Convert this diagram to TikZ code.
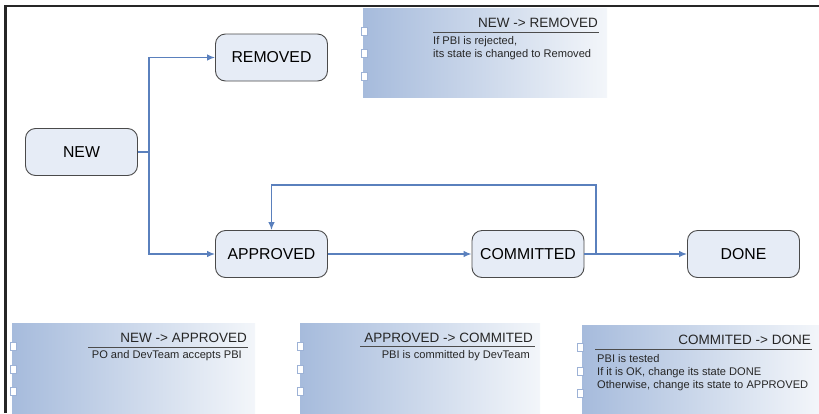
\documentclass[tikz,border=0pt]{standalone}
\usepackage{fontspec}
\setmainfont{Liberation Sans}
\usetikzlibrary{arrows.meta}
\definecolor{statefill}{HTML}{E6ECF6}
\definecolor{stateline}{HTML}{4A4A4A}
\definecolor{connblue}{HTML}{5A80BD}
\definecolor{notel}{HTML}{A6BBDC}
\definecolor{noter}{HTML}{F3F6FA}
\definecolor{tabline}{HTML}{9DB2D6}
\begin{document}
\begin{tikzpicture}[x=1pt,y=-1pt,
  state/.style={draw=stateline, line width=0.9pt, fill=statefill, rounded corners=10pt,
    minimum width=112pt, minimum height=47pt, inner sep=0pt,
    font=\fontsize{15.8}{18}\selectfont},
  conn/.style={draw=connblue, line width=1.3pt},
  arr/.style={conn, -{Latex[length=8pt,width=6.5pt]}},
  note/.style={left color=notel, right color=noter, draw=none, anchor=north west, inner sep=0pt},
  tab/.style={fill=white, draw=tabline, line width=1pt, minimum width=5.5pt, minimum height=8pt, inner sep=0pt, anchor=north west},
  ntitle/.style={font=\fontsize{13.5}{15}\selectfont, inner sep=0pt, text=black!85},
  nbody/.style={font=\fontsize{11.1}{13}\selectfont, inner sep=0pt, text=black!85, align=left},
  uline/.style={draw=black!70, line width=0.9pt},
  frame/.style={draw=black!85, line width=2.4pt}
]
\useasboundingbox (0,0) rectangle (819,413);
% frame
\coordinate (fa) at (5.5,413);
\coordinate (fb) at (5.5,6);
\coordinate (fc) at (819,6);
\draw[frame] (fa) -- (fb) -- (fc);

% notes
\node[note, minimum width=244pt, minimum height=89pt] (n1) at (363,8) {};
\node[note, minimum width=243pt, minimum height=92pt] (n2) at (12,323) {};
\node[note, minimum width=240pt, minimum height=90pt] (n3) at (300,323) {};
\node[note, minimum width=237pt, minimum height=88pt] (n4) at (582,325) {};

\foreach \n/\x/\ya/\yb/\yc in {n1/361/27/49/72, n2/10/342/365/387, n3/297/342/365/387, n4/577/343/367/389}{
  \node[tab] (\n ta) at (\x,\ya) {};
  \node[tab] (\n tb) at (\x,\yb) {};
  \node[tab] (\n tc) at (\x,\yc) {};
}

% note 1
\node[ntitle, anchor=base east] (t1) at (598,27) {NEW -> REMOVED};
\coordinate (u1a) at (433,32); \coordinate (u1b) at (599,32);
\draw[uline] (u1a) -- (u1b);
\node[nbody, anchor=base west] (b1a) at (433,44) {If PBI is rejected,};
\node[nbody, anchor=base west] (b1b) at (433,57) {its state is changed to Removed};

% note 2
\node[ntitle, anchor=base east] (t2) at (247,342) {NEW -> APPROVED};
\coordinate (u2a) at (88,347); \coordinate (u2b) at (248,347);
\draw[uline] (u2a) -- (u2b);
\node[nbody, anchor=base east] (b2) at (242,358) {PO and DevTeam accepts PBI};

% note 3
\node[ntitle, anchor=base east] (t3) at (533,342) {APPROVED -> COMMITED};
\coordinate (u3a) at (360,346.5); \coordinate (u3b) at (535,346.5);
\draw[uline] (u3a) -- (u3b);
\node[nbody, anchor=base east] (b3) at (530,358) {PBI is committed by DevTeam};

% note 4
\node[ntitle, anchor=base east] (t4) at (811,344) {COMMITED -> DONE};
\coordinate (u4a) at (595,349); \coordinate (u4b) at (812,349);
\draw[uline] (u4a) -- (u4b);
\node[nbody, anchor=base west] (b4a) at (597,362) {PBI is tested};
\node[nbody, anchor=base west] (b4b) at (597,375) {If it is OK, change its state DONE};
\node[nbody, anchor=base west] (b4c) at (597,388) {Otherwise, change its state to APPROVED};

% states
\node[state] (new) at (81.5,152) {NEW};
\node[state] (removed) at (271.5,57.5) {REMOVED};
\node[state] (approved) at (271.5,254) {APPROVED};
\node[state] (committed) at (528,254) {COMMITTED};
\node[state] (done) at (743.5,254) {DONE};

% connectors
\coordinate (split) at (149,152);
\draw[conn] (new.east) -- (split);
\draw[arr] (split) |- (removed.west);
\draw[arr] (split) |- (approved.west);
\draw[arr] (approved.east) -- (committed.west);
\draw[arr] (committed.east) -- (done.west);
\coordinate (lp1) at (596,254);
\coordinate (lp2) at (596,185);
\coordinate (lp3) at (271.5,185);
\draw[arr] (lp1) -- (lp2) -- (lp3) -- (approved.north);
\end{tikzpicture}
\end{document}
